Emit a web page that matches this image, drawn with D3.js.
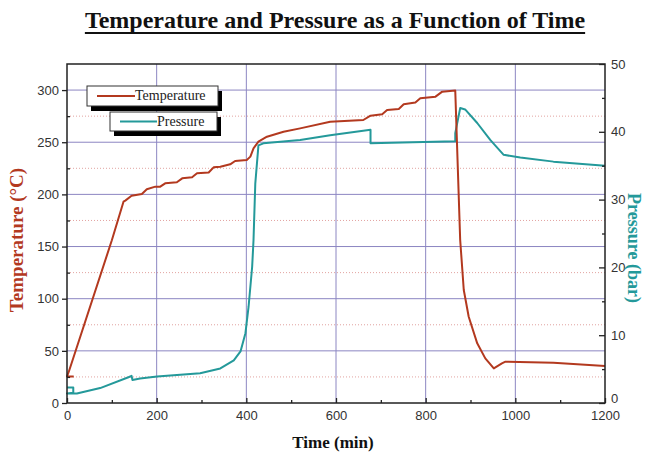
<!DOCTYPE html>
<html>
<head>
<meta charset="utf-8">
<script src="https://cdn.jsdelivr.net/npm/d3@7"></script>
<style>
  body { margin: 0; background: #fff; }
  svg { display: block; }
</style>
</head>
<body>
<div id="chart"></div>
<script>
// temperature readings (min, °C)
const tempTime = [15, 0, 4, 100, 126, 130, 144, 167, 178, 197, 208, 219, 245, 257, 279, 290, 316, 327, 342, 364,
  375, 401, 409, 416, 427, 446, 483, 520, 587, 661, 677, 703, 714, 740, 751, 777, 788, 822, 837, 866,
  877, 885, 896, 915, 933, 952, 970, 978, 1085, 1200];
const tempValues = [25.5, 25.5, 30, 156, 193, 194, 198.7, 200.4, 204.9, 207.4, 207.4, 210.6, 211.6, 215.4, 216.4, 220.2, 221, 225.9, 226.5, 228.8,
  232, 233, 236.2, 244.2, 250.5, 255.3, 260.1, 263.3, 269.7, 271.3, 275.5, 276.8, 280.9, 281.9, 286.4, 288, 292.1, 293.7, 298.5, 299.5,
  156.3, 108.3, 82.7, 57.2, 42.8, 33.2, 38, 39.6, 38.6, 35.5];

// pressure readings (min, bar)
const pressTime = [0, 14, 14, 0, 22, 74, 137, 144, 146, 163, 201, 297, 342, 372, 387, 398, 405, 413, 416, 420,
  427, 438, 520, 587, 677, 677, 866, 866, 877, 888, 915, 944, 974, 1011, 1085, 1200];
const pressValues = [2.3, 2.3, 1.5, 1.4, 1.4, 2.2, 3.8, 4.0, 3.4, 3.6, 3.9, 4.4, 5.1, 6.3, 7.6, 10.3, 14.2, 20.1, 24.0, 32.4,
  38.0, 38.3, 38.8, 39.5, 40.3, 38.3, 38.6, 39.8, 43.5, 43.3, 41.3, 38.8, 36.6, 36.2, 35.6, 35.0];

const timeTicks = [0, 200, 400, 600, 800, 1000, 1200];
const timeMinor = [100, 300, 500, 700, 900, 1100];
const tempTicks = [0, 50, 100, 150, 200, 250, 300];
const tempMinor = [25, 75, 125, 175, 225, 275];
const pressTicks = [0, 10, 20, 30, 40, 50];
const pressMinor = [5, 15, 25, 35, 45];

const seriesNames = ["Temperature", "Pressure"];
const tempColor = "#b3391f";
const pressColor = "#24999a";

const width = 652, height = 456;
const margin = { top: 64, right: 47, bottom: 53, left: 67 };
const innerW = width - margin.left - margin.right;
const innerH = height - margin.top - margin.bottom;

const svg = d3.select("#chart").append("svg")
  .attr("width", width)
  .attr("height", height);

const x = d3.scaleLinear().domain([0, 1200]).range([margin.left, margin.left + innerW]);
const yT = d3.scaleLinear().domain([0, 325]).range([margin.top + innerH, margin.top]);
const yP = d3.scaleLinear().domain([0, 50]).range([margin.top + innerH, margin.top]);

// title
const title = svg.append("text")
  .attr("x", 335)
  .attr("y", 28)
  .attr("text-anchor", "middle")
  .attr("font-family", "Liberation Serif, Times New Roman, serif")
  .attr("font-weight", "bold")
  .attr("font-size", 24)
  .attr("fill", "#111")
  .text("Temperature and Pressure as a Function of Time");
const tw = title.node().getComputedTextLength();
svg.append("line")
  .attr("x1", 335 - tw / 2).attr("x2", 335 + tw / 2)
  .attr("y1", 33).attr("y2", 33)
  .attr("stroke", "#111").attr("stroke-width", 1.8);

// minor grid (dotted red)
svg.append("g")
  .selectAll("line")
  .data(tempMinor)
  .join("line")
  .attr("x1", margin.left).attr("x2", margin.left + innerW)
  .attr("y1", d => yT(d)).attr("y2", d => yT(d))
  .attr("stroke", "#e2a3a0")
  .attr("stroke-width", 1)
  .attr("stroke-dasharray", "1,2");

// major grid
svg.append("g")
  .selectAll("line")
  .data(tempTicks.slice(1))
  .join("line")
  .attr("x1", margin.left).attr("x2", margin.left + innerW)
  .attr("y1", d => yT(d)).attr("y2", d => yT(d))
  .attr("stroke", "#8c86c2")
  .attr("stroke-width", 1);

svg.append("g")
  .selectAll("line")
  .data(timeTicks.slice(1, -1))
  .join("line")
  .attr("y1", margin.top).attr("y2", margin.top + innerH)
  .attr("x1", d => x(d)).attr("x2", d => x(d))
  .attr("stroke", "#8c86c2")
  .attr("stroke-width", 1);

// lines
const tempData = tempTime.map((t, i) => [t, tempValues[i]]);
const pressData = pressTime.map((t, i) => [t, pressValues[i]]);

svg.append("path")
  .datum(pressData)
  .attr("fill", "none")
  .attr("stroke", pressColor)
  .attr("stroke-width", 2)
  .attr("stroke-linejoin", "round")
  .attr("d", d3.line().x(d => x(d[0])).y(d => yP(d[1])));

svg.append("path")
  .datum(tempData)
  .attr("fill", "none")
  .attr("stroke", tempColor)
  .attr("stroke-width", 2)
  .attr("stroke-linejoin", "round")
  .attr("d", d3.line().x(d => x(d[0])).y(d => yT(d[1])));

// frame
svg.append("rect")
  .attr("x", margin.left).attr("y", margin.top)
  .attr("width", innerW).attr("height", innerH)
  .attr("fill", "none")
  .attr("stroke", "#222")
  .attr("stroke-width", 1.5);

// axes
function styleAxis(g) {
  g.select(".domain").remove();
  g.selectAll(".tick line").attr("stroke", "#222").attr("stroke-width", 1.3);
  g.selectAll(".tick text")
    .attr("font-family", "Liberation Sans, Arial, sans-serif")
    .attr("font-size", 13)
    .attr("fill", "#333");
}

svg.append("g")
  .attr("transform", `translate(${margin.left},0)`)
  .call(d3.axisLeft(yT).tickValues(tempTicks).tickSize(5).tickPadding(3).tickFormat(d3.format("d")))
  .call(styleAxis);
svg.append("g")
  .attr("transform", `translate(${margin.left},0)`)
  .call(d3.axisLeft(yT).tickValues(tempMinor).tickSize(-3).tickFormat(""))
  .call(styleAxis);

svg.append("g")
  .attr("transform", `translate(0,${margin.top + innerH})`)
  .call(d3.axisBottom(x).tickValues(timeTicks).tickSize(-5).tickPadding(8).tickFormat(d3.format("d")))
  .call(styleAxis);
svg.append("g")
  .attr("transform", `translate(0,${margin.top + innerH})`)
  .call(d3.axisBottom(x).tickValues(timeMinor).tickSize(-3).tickFormat(""))
  .call(styleAxis);

const rightAxis = svg.append("g")
  .attr("transform", `translate(${margin.left + innerW},0)`)
  .call(d3.axisRight(yP).tickValues(pressTicks).tickSize(-6).tickPadding(6).tickFormat(d3.format("d")))
  .call(styleAxis);
// lift the right-hand zero a little so it clears the 1200 label below it
rightAxis.selectAll(".tick text").filter(d => d === 0).attr("dy", "-0.05em");
svg.append("g")
  .attr("transform", `translate(${margin.left + innerW},0)`)
  .call(d3.axisRight(yP).tickValues(pressMinor).tickSize(-3).tickFormat(""))
  .call(styleAxis);

// axis titles
svg.append("text")
  .attr("transform", "translate(23,240) rotate(-90)")
  .attr("text-anchor", "middle")
  .attr("font-family", "Liberation Serif, Times New Roman, serif")
  .attr("font-weight", "bold")
  .attr("font-size", 19)
  .attr("fill", tempColor)
  .text("Temperature (°C)");

svg.append("text")
  .attr("transform", "translate(628,248) rotate(90)")
  .attr("text-anchor", "middle")
  .attr("font-family", "Liberation Serif, Times New Roman, serif")
  .attr("font-weight", "bold")
  .attr("font-size", 18)
  .attr("fill", pressColor)
  .text("Pressure (bar)");

svg.append("text")
  .attr("x", 333)
  .attr("y", 448)
  .attr("text-anchor", "middle")
  .attr("font-family", "Liberation Serif, Times New Roman, serif")
  .attr("font-weight", "bold")
  .attr("font-size", 17)
  .attr("fill", "#111")
  .text("Time (min)");

// legend
const legendBoxes = [
  { name: seriesNames[0], color: tempColor, x0: 87, x1: 218, y0: 86, y1: 106, l0: 97, l1: 135 },
  { name: seriesNames[1], color: pressColor, x0: 110, x1: 217, y0: 112, y1: 131, l0: 120, l1: 157 }
];
const leg = svg.append("g")
  .selectAll("g")
  .data(legendBoxes)
  .join("g");
leg.append("rect")
  .attr("x", d => d.x0 + 4).attr("y", d => d.y0 + 5)
  .attr("width", d => d.x1 - d.x0).attr("height", d => d.y1 - d.y0)
  .attr("fill", "#000");
leg.append("rect")
  .attr("x", d => d.x0).attr("y", d => d.y0)
  .attr("width", d => d.x1 - d.x0).attr("height", d => d.y1 - d.y0)
  .attr("fill", "#fff")
  .attr("stroke", "#333")
  .attr("stroke-width", 1);
leg.append("line")
  .attr("x1", d => d.l0).attr("x2", d => d.l1)
  .attr("y1", d => (d.y0 + d.y1) / 2).attr("y2", d => (d.y0 + d.y1) / 2)
  .attr("stroke", d => d.color)
  .attr("stroke-width", 2);
leg.append("text")
  .attr("x", d => d.l1)
  .attr("y", d => (d.y0 + d.y1) / 2 + 4)
  .attr("font-family", "Liberation Serif, Times New Roman, serif")
  .attr("font-size", 14)
  .attr("fill", "#222")
  .text(d => d.name);
</script>
</body>
</html>
